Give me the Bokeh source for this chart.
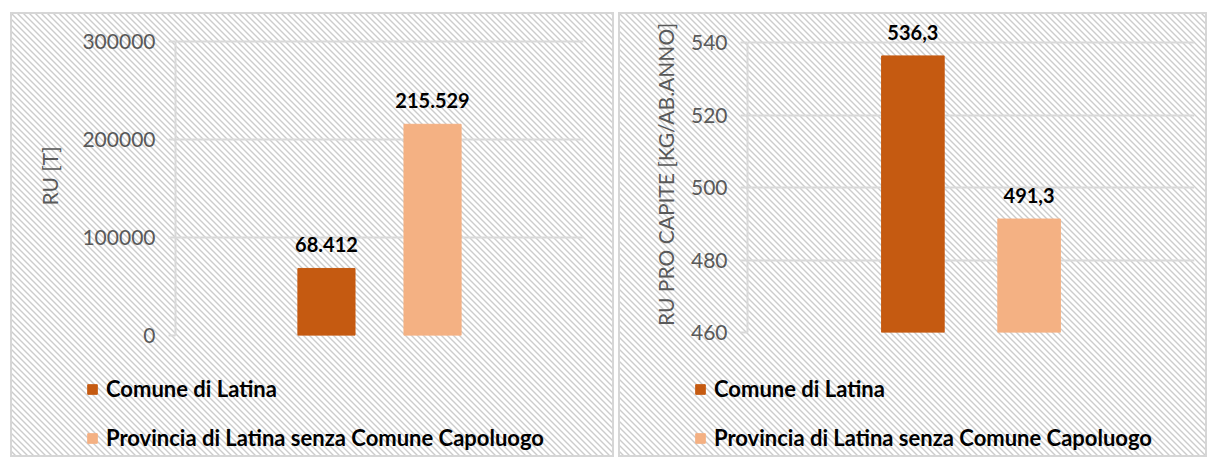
from bokeh.plotting import figure
from bokeh.models import (ColumnDataSource, Range1d, FactorRange, FixedTicker,
                          BasicTickFormatter, LabelSet, Legend, LegendItem)
from bokeh.core.properties import value
from bokeh.transform import dodge
from bokeh.layouts import row, column
from bokeh.embed import file_html
from bokeh.resources import INLINE

# ---------------- data ----------------
category = ["Latina"]
series = ["Comune di Latina", "Provincia di Latina senza Comune Capoluogo"]
ru_tonnes = [68412, 215529]
ru_pro_capite = [536.3, 491.3]
ru_ticks = [0, 100000, 200000, 300000]
pc_ticks = [460, 480, 500, 520, 540]
ru_title = "RU [T]"
pc_title = "RU PRO CAPITE [KG/AB.ANNO]"

colors = ["#C55A11", "#F4B183"]
offsets = [-0.13, 0.13]
FONT = "Lato"
GRAY = "#595959"
GRID = "#d9d9d9"
CHART_H = 345
LEGEND_H = 100

HATCH = ("url(\"data:image/svg+xml;utf8,<svg xmlns='http://www.w3.org/2000/svg' "
         "width='6' height='6'><path d='M0,0 L6,6 M-3,3 L3,9 M3,-3 L9,3' "
         "stroke='%23cccccc' stroke-width='1.4'/></svg>\")")


def fmt_t(v):
    return f"{v:,.0f}".replace(",", ".")


def fmt_pc(v):
    return f"{v:.1f}".replace(".", ",")


def transparent(p):
    p.background_fill_alpha = 0
    p.border_fill_alpha = 0
    p.outline_line_color = None


def panel(values, labels, ticks, y_title, width, borders, top_extra,
          legend_loc, title_standoff, margin):
    left, right, top, bottom = borders
    frame_h = CHART_H - top - bottom
    span_px = frame_h - top_extra
    per_px = (ticks[-1] - ticks[0]) / span_px
    y_end = ticks[-1] + top_extra * per_px
    p = figure(width=width, height=CHART_H, x_range=FactorRange(*category),
               y_range=Range1d(ticks[0], y_end),
               output_backend="svg", toolbar_location=None,
               min_border_left=left, min_border_right=right,
               min_border_top=top, min_border_bottom=bottom)
    transparent(p)
    p.frame_align = False

    # separate small figure that only holds the legend
    lg = figure(width=width, height=LEGEND_H, output_backend="svg",
                toolbar_location=None, x_axis_location=None,
                y_axis_location=None, min_border=0,
                x_range=Range1d(0, 1), y_range=Range1d(0, 1))
    transparent(lg)
    lg.frame_align = False
    lg.xgrid.visible = False
    lg.ygrid.visible = False

    items = []
    for i in range(len(series)):
        src = ColumnDataSource(dict(x=category, top=[values[i]],
                                    label=[labels[i]]))
        p.vbar(x=dodge("x", offsets[i], range=p.x_range), top="top",
               bottom=ticks[0], width=0.14, color=colors[i], source=src)
        p.add_layout(LabelSet(x=dodge("x", offsets[i], range=p.x_range),
                              y="top", text="label", source=src,
                              y_offset=16, text_align="center",
                              text_baseline="bottom", text_font=value(FONT),
                              text_font_style="bold", text_font_size="20px",
                              text_color="black"))
        # legend proxy (kept outside the visible range of the legend strip)
        proxy = ColumnDataSource(dict(x=[-5.0], top=[-5.0]))
        r = lg.vbar(x="x", top="top", bottom=-6.0, width=0.1,
                    color=colors[i], source=proxy)
        items.append(LegendItem(label=series[i], renderers=[r]))

    p.xaxis.visible = False
    p.xgrid.visible = False

    ax = p.yaxis[0]
    ax.bounds = (ticks[0], ticks[-1])
    ax.ticker = FixedTicker(ticks=ticks)
    ax.formatter = BasicTickFormatter(use_scientific=False)
    ax.axis_line_color = GRID
    ax.axis_line_width = 2
    ax.major_tick_line_color = GRID
    ax.major_tick_line_width = 2
    ax.major_tick_out = 7
    ax.major_tick_in = 0
    ax.minor_tick_line_color = None
    ax.major_label_standoff = 13
    ax.major_label_text_font = FONT
    ax.major_label_text_font_size = "21px"
    ax.major_label_text_color = GRAY
    ax.axis_label = y_title
    ax.axis_label_text_font = FONT
    ax.axis_label_text_font_style = "normal"
    ax.axis_label_text_font_size = "21px"
    ax.axis_label_text_color = GRAY
    ax.axis_label_standoff = title_standoff

    p.ygrid.ticker = FixedTicker(ticks=ticks)
    p.ygrid.grid_line_color = GRID
    p.ygrid.grid_line_width = 2

    leg = Legend(items=items, location=legend_loc, orientation="vertical",
                 glyph_width=12, glyph_height=12, label_standoff=8,
                 spacing=22, padding=0, margin=0, label_height=20,
                 background_fill_alpha=0, border_line_color=None,
                 label_text_font=FONT, label_text_font_style="bold",
                 label_text_font_size="22px", label_text_color="black")
    lg.add_layout(leg, "center")

    col = column(p, lg, spacing=0, margin=margin)
    col.styles = {"background-color": "#ffffff",
                  "background-image": HATCH,
                  "box-shadow": "inset 0 0 0 2px #d6d6d6"}
    return col


c1 = panel(ru_tonnes, [fmt_t(v) for v in ru_tonnes], ru_ticks, ru_title,
           604, (165, 31, 4, 22), 25, (76, 6), 17, (12, 0, 0, 10))
c2 = panel(ru_pro_capite, [fmt_pc(v) for v in ru_pro_capite], pc_ticks,
           pc_title, 589, (129, 13, 4, 25), 26, (76, 6), 10, (12, 0, 0, 4))

layout = row(c1, c2, spacing=0)
open("out.html", "w").write(file_html(layout, INLINE))
